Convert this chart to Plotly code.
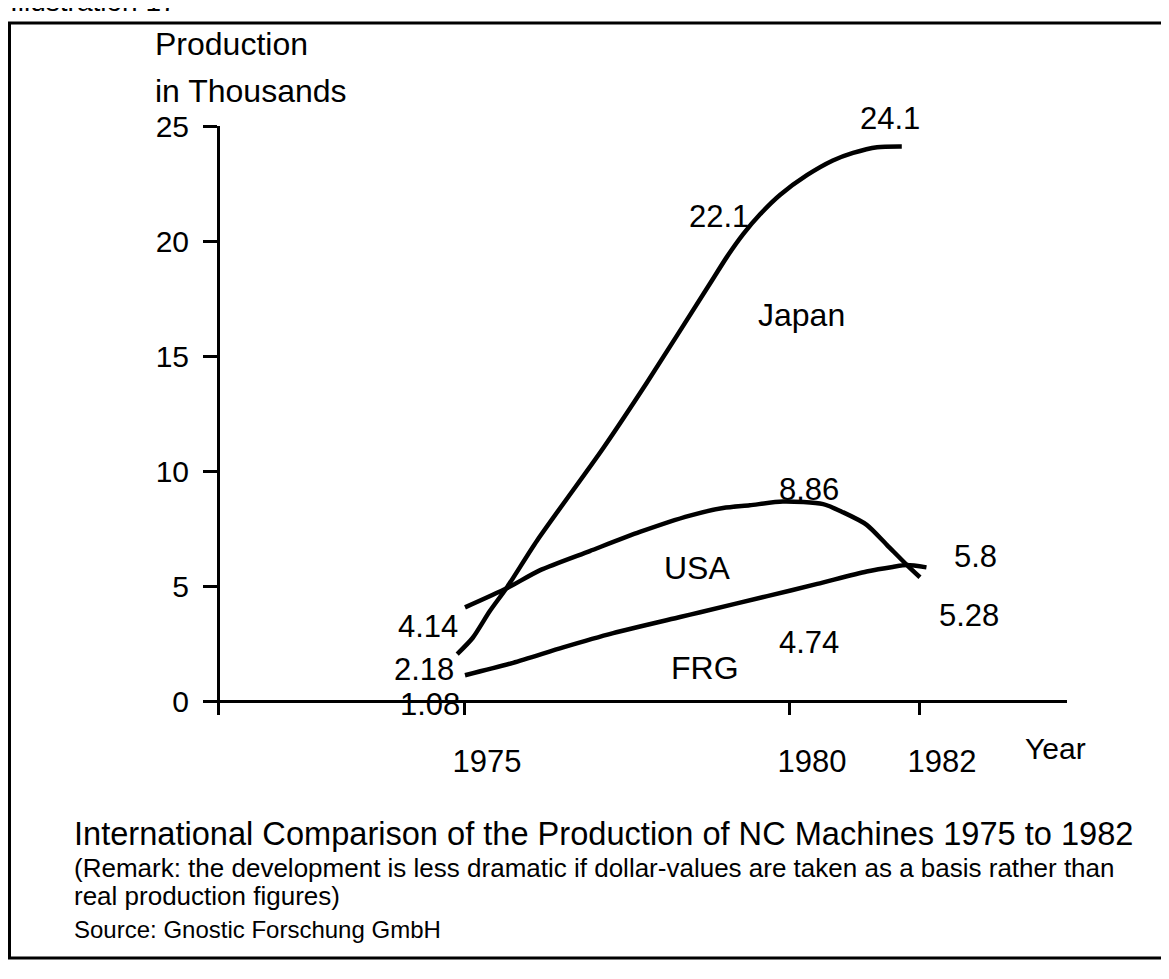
import plotly.graph_objects as go

W, H = 1169, 979
OFF = 8  # page body margin around the plot div


def fx(px):
    # reference pixel -> paper x
    return (px - OFF) / W


def fy(py):
    # reference pixel -> paper y
    return 1 - (py - OFF) / H


# production of NC machines, thousands
japan_year = [1974.88, 1975.12, 1975.38, 1975.65, 1976.11, 1977.12, 1977.80, 1978.77,
              1979.03, 1979.28, 1979.54, 1979.85, 1980.26, 1980.66, 1980.97, 1981.34, 1981.72]
japan_val = [2.04, 2.75, 3.90, 4.96, 6.98, 10.97, 13.85, 18.15,
             19.31, 20.30, 21.16, 22.01, 22.86, 23.50, 23.83, 24.08, 24.11]

usa_year = [1975.0, 1975.65, 1976.15, 1976.92, 1977.69, 1978.46, 1978.97, 1979.38,
            1979.89, 1980.51, 1980.82, 1981.18, 1981.49, 1981.80, 1982.0]
usa_val = [4.07, 4.91, 5.68, 6.52, 7.35, 8.06, 8.39, 8.51,
           8.67, 8.56, 8.20, 7.66, 6.79, 5.91, 5.38]

frg_year = [1975.0, 1975.74, 1976.51, 1977.28, 1978.31, 1978.62, 1979.65,
            1980.42, 1981.18, 1981.58, 1981.80, 1982.1]
frg_val = [1.12, 1.66, 2.33, 2.95, 3.65, 3.86, 4.56,
           5.09, 5.63, 5.83, 5.91, 5.81]

# value labels written on the chart: (text, year, value)
value_labels = [("22.1", 1978.91, 21.05), ("8.86", 1980.29, 9.18),
                ("5.8", 1982.85, 6.30), ("5.28", 1982.75, 3.70), ("4.74", 1980.29, 2.53),
                ("4.14", 1974.43, 3.22), ("2.18", 1974.37, 1.35), ("1.08", 1974.46, -0.17)]
series_labels = [("Japan", 1980.17, 16.80), ("USA", 1978.57, 5.80), ("FRG", 1978.69, 1.45)]

y_ticks = [0, 5, 10, 15, 20, 25]
x_ticks = [1975, 1980, 1982]

FONT = "Liberation Sans, Arial, sans-serif"

fig = go.Figure()
for xs, ys in [(japan_year, japan_val), (usa_year, usa_val), (frg_year, frg_val)]:
    fig.add_trace(go.Scatter(x=xs, y=ys, mode="lines",
                             line=dict(color="black", width=4.5, shape="spline", smoothing=0.7),
                             showlegend=False, hoverinfo="skip", cliponaxis=False))

for t, xv, yv in value_labels:
    fig.add_annotation(x=xv, y=yv, text=t, showarrow=False, font=dict(size=31, color="black", family=FONT))
for t, xv, yv in series_labels:
    fig.add_annotation(x=xv, y=yv, text=t, showarrow=False, font=dict(size=32, color="black", family=FONT))
# end value of Japan sits above the 25 tick
fig.add_annotation(x=1981.54, y=japan_val[-1], yshift=28, text="24.1", showarrow=False,
                   font=dict(size=31, color="black", family=FONT))


def paper_text(text, px, py, size, xanchor="left"):
    fig.add_annotation(x=fx(px), y=fy(py), xref="paper", yref="paper", text=text, showarrow=False,
                       xanchor=xanchor, yanchor="middle", font=dict(size=size, color="black", family=FONT))


# axis titles
paper_text("Production", 153, 44, 32)
paper_text("in Thousands", 153, 91, 32)
paper_text("Year", 1055, 748, 30, xanchor="center")

# caption
paper_text("International Comparison of the Production of NC Machines 1975 to 1982", 72, 833, 32.6)
paper_text("(Remark: the development is less dramatic if dollar-values are taken as a basis rather than",
           72, 868, 26)
paper_text("real production figures)", 72, 896, 26)
paper_text("Source: Gnostic Forschung GmbH", 72, 929, 24)

# heading cut off at the top edge
fig.add_annotation(x=0, y=fy(19), xref="paper", yref="paper", showarrow=False, xanchor="left", yanchor="bottom",
                   text="Illustration 17", font=dict(size=28, color="black", family=FONT))

# frame
fig.add_shape(type="rect", xref="paper", yref="paper", x0=fx(9.5), x1=fx(1163), y0=fy(958), y1=fy(23),
              line=dict(color="black", width=3))

fig.update_layout(
    width=W, height=H, margin=dict(l=0, r=0, t=0, b=0, autoexpand=False),
    paper_bgcolor="white", plot_bgcolor="white",
    font=dict(family=FONT, color="black"),
    xaxis=dict(domain=[fx(205), fx(1067)], range=[1971.0, 1984.262], anchor="free", position=fy(701),
               showgrid=False, zeroline=False, showline=True, linecolor="black", linewidth=3,
               tickmode="array", tickvals=x_ticks, ticks="outside", ticklen=12, tickwidth=3, tickcolor="black",
               tickfont=dict(size=31, color="black", family=FONT), ticklabelstandoff=20, ticklabelshift=22),
    yaxis=dict(domain=[fy(715), fy(126)], range=[-(715 - 701) / 23, 25], anchor="free", position=fx(218),
               showgrid=False, zeroline=False, showline=True, linecolor="black", linewidth=3,
               tickmode="array", tickvals=y_ticks, ticks="outside", ticklen=14, tickwidth=3, tickcolor="black",
               tickfont=dict(size=30, color="black", family=FONT), ticklabelstandoff=8),
)

fig.write_html("out.html")
